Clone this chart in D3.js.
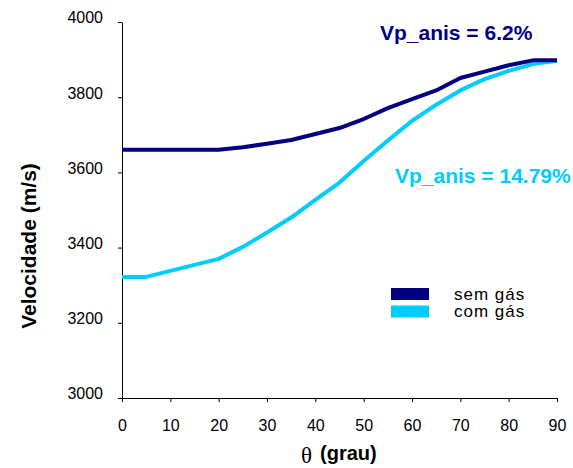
<!DOCTYPE html>
<meta charset="utf-8">
<style>
body { margin: 0; background: #fff; }
text { font-family: Arial, "Liberation Sans", sans-serif; }
.line { fill: none; stroke-width: 4px; stroke-linejoin: round; }
.axis path, .axis line { stroke: #000; }
.axis text { font-size: 16px; fill: #000; }
</style>
<body>
<script src="https://cdn.jsdelivr.net/npm/d3@7/dist/d3.min.js"></script>
<script>

// data
var angles = [0, 5, 10, 15, 20, 25, 30, 35, 40, 45, 50, 55, 60, 65, 70, 75, 80, 85, 90];
var semGas = [3660, 3660, 3660, 3660, 3660, 3667, 3676, 3686, 3702, 3718, 3742, 3771, 3795, 3818, 3851, 3868, 3885, 3898, 3898];
var comGas = [3322, 3322, 3338, 3354, 3370, 3402, 3440, 3480, 3527, 3573, 3630, 3685, 3737, 3780, 3818, 3848, 3870, 3888, 3897];
var xTicks = [0, 10, 20, 30, 40, 50, 60, 70, 80, 90];
var yTicks = [3000, 3200, 3400, 3600, 3800, 4000];
var seriesNames = ["sem gás", "com gás"];
var seriesColors = ["#000080", "#00ccff"];
var anisLabels = ["Vp_anis = 6.2%", "Vp_anis = 14.79%"];

var margin = {top: 22, right: 16, bottom: 70, left: 122},
    width = 573 - margin.left - margin.right,
    height = 468 - margin.top - margin.bottom;

var x = d3.scaleLinear().domain([0, 90]).range([0, 435]);
var y = d3.scaleLinear().domain([3000, 4000]).range([376, 0]);

var svg = d3.select("body").append("svg")
    .attr("width", 573)
    .attr("height", 468)
  .append("g")
    .attr("transform", "translate(" + margin.left + "," + margin.top + ")");

// axes
svg.append("g")
    .attr("class", "axis")
    .attr("transform", "translate(0," + y(3000) + ")")
    .call(d3.axisBottom(x).tickValues(xTicks).tickFormat(d3.format("d"))
        .tickSize(4).tickPadding(18).tickSizeOuter(0));

var yAxis = svg.append("g")
    .attr("class", "axis")
    .call(d3.axisLeft(y).tickValues(yTicks).tickFormat(d3.format("d"))
        .tickSize(4).tickPadding(15).tickSizeOuter(0));
yAxis.selectAll("text").attr("dy", "0.05em");

// lines
var valueline = d3.line()
    .x(function(d, i) { return x(angles[i]); })
    .y(function(d) { return y(d); });

[comGas, semGas].forEach(function(s, k) {
    svg.append("path")
        .datum(s)
        .attr("class", "line")
        .style("stroke", seriesColors[1 - k])
        .attr("d", valueline);
});

// anisotropy annotations
svg.append("text")
    .attr("x", 380 - margin.left).attr("y", 40 - margin.top)
    .style("font-size", "21px").style("font-weight", "bold")
    .style("fill", seriesColors[0])
    .text(anisLabels[0]);

svg.append("text")
    .attr("x", 395 - margin.left).attr("y", 183 - margin.top)
    .style("font-size", "21px").style("font-weight", "bold")
    .style("fill", seriesColors[1])
    .text(anisLabels[1]);

// legend
var legend = svg.append("g")
    .attr("transform", "translate(" + (391 - margin.left) + "," + (288 - margin.top) + ")");
seriesNames.forEach(function(name, i) {
    legend.append("rect")
        .attr("x", 0).attr("y", i * 17.5)
        .attr("width", 38).attr("height", 12)
        .style("fill", seriesColors[i]);
    legend.append("text")
        .attr("x", 63).attr("y", i * 17.5 + 11.5)
        .style("font-size", "17px")
        .style("letter-spacing", "1px")
        .text(name);
});

// axis titles
var xt = svg.append("text")
    .attr("transform", "translate(" + (301 - margin.left) + "," + (463 - margin.top) + ")");
xt.append("tspan")
    .style("font-family", "'Liberation Serif', 'DejaVu Serif', serif")
    .style("font-size", "23px")
    .text("θ");
xt.append("tspan")
    .attr("dx", 8).attr("dy", -3)
    .style("font-size", "20px").style("font-weight", "bold")
    .text("(grau)");

svg.append("text")
    .attr("transform", "translate(" + (36 - margin.left) + "," + (246 - margin.top) + ") rotate(-90)")
    .attr("text-anchor", "middle")
    .style("font-size", "21px").style("font-weight", "bold")
    .text("Velocidade (m/s)");

</script>
</body>
